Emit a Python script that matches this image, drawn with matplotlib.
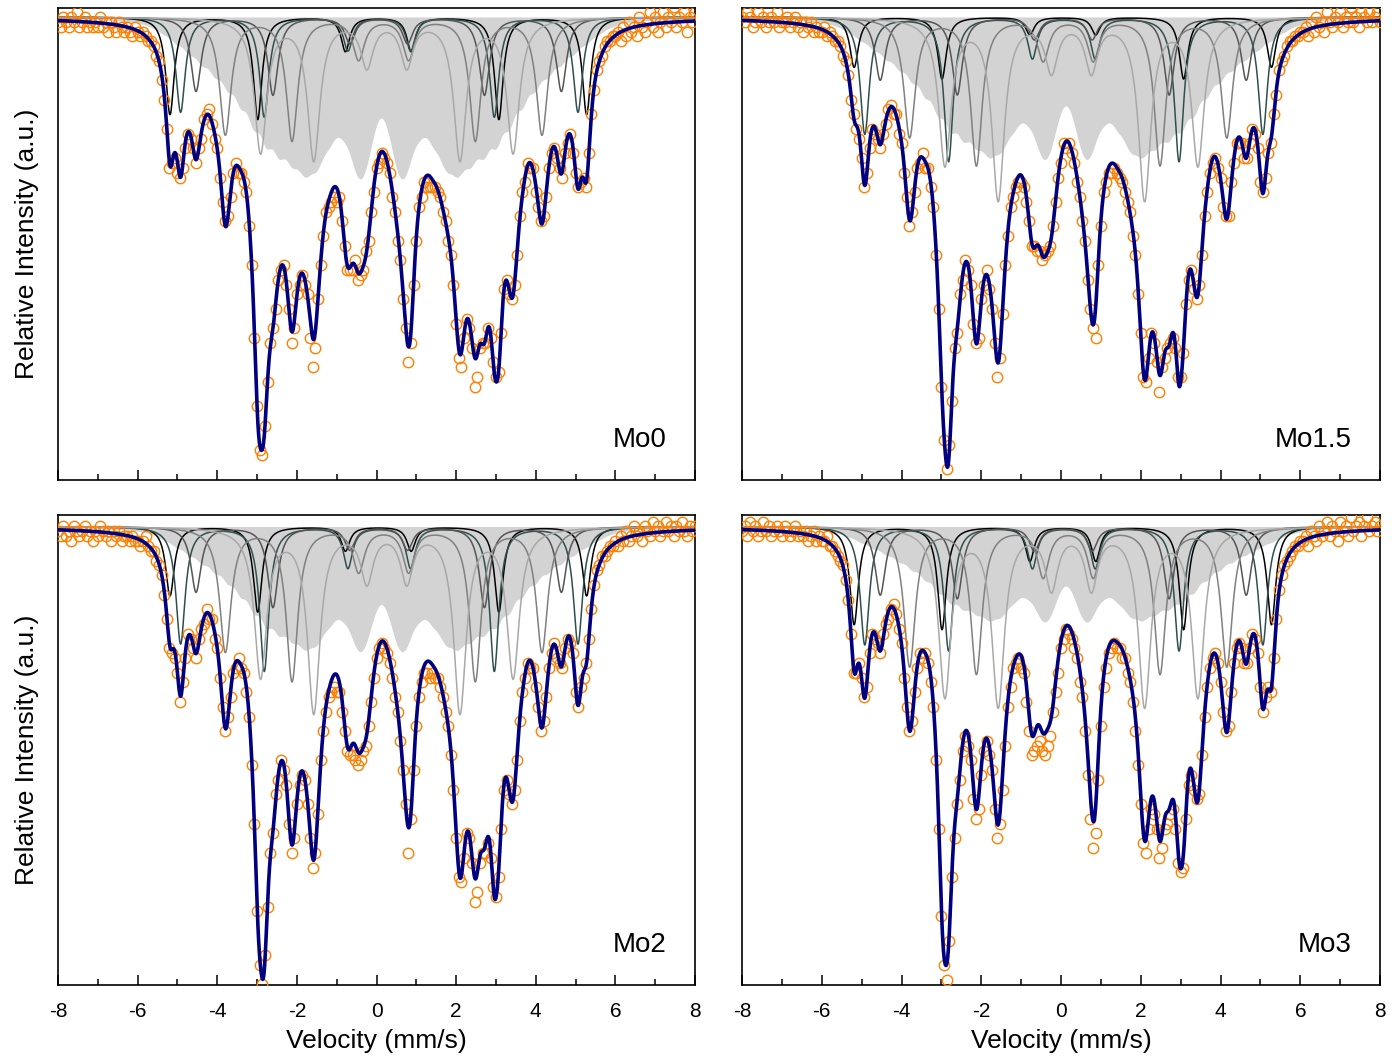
import numpy as np
import matplotlib.pyplot as plt

plt.rcParams['font.family'] = ['Liberation Sans', 'DejaVu Sans']
plt.rcParams['axes.unicode_minus'] = False

# sextet line positions per tesla (alpha-Fe calibration), mm/s
SPLIT = np.array([-0.1610, -0.0932, -0.0254, 0.0254, 0.0932, 0.1610])

comp_colors = ['#000000', '#2F4F4F', '#555555', '#808080', '#A8A8A8']
fill_color = '#D3D3D3'
point_color = '#FF8000'

sample_names = ['Mo0', 'Mo1.5', 'Mo2', 'Mo3']

# discrete sextets: hyperfine field (T), isomer shift (mm/s), outer line depth (%), linewidth (mm/s)
comp_field = [32.5, 31.0, 28.5, 24.7, 19.7]
comp_shift = [0.045, 0.07, 0.055, 0.18, 0.26]
comp_width = [0.26, 0.28, 0.31, 0.35, 0.38]
depth_mo0 = [2.00, 1.95, 1.52, 2.40, 2.75]
depth_mo15 = [1.03, 2.40, 1.29, 2.45, 3.00]
depth_mo2 = [1.42, 2.40, 1.34, 2.55, 3.05]
depth_mo3 = [2.01, 2.42, 1.40, 2.85, 3.45]
# relative intensity of lines 2/5 and 3/4 (lines 1/6 = 3)
middle_ratio = [3.15, 3.7, 3.7, 3.15]
inner_ratio = 1.05

# hyperfine field distribution shown as the shaded area
dist_field = np.arange(2, 38, 2)
dist_weight = [0.4, 0.7, 1.0, 1.2, 1.5, 1.8, 2.3, 3.1, 3.7, 3.7, 3.1, 2.5, 2.0, 1.6, 1.2, 0.8, 0.4, 0.1]
dist_ratio = [3.0, 2.3, 1.0]
dist_shift = 0.12
dist_width = 0.45
dist_depth = [3.33, 2.93, 2.57, 1.96]

comp_depths = [depth_mo0, depth_mo15, depth_mo2, depth_mo3]

# measured spectra: absorption (per mille) in 241 channels from -8 to +8 mm/s
channel_v = np.linspace(-8, 8, 241)
abs_mo0 = [
    1, 2, 0, 1, 2, 0, 1, -1, 2, 1, 0, 2, 1, 2, 1, 2, 0, 2, 1, 3, 1, 2, 3, 1, 2, 3, 2, 3, 4, 2,
    3, 4, 3, 4, 5, 5, 6, 8, 9, 13, 17, 23, 31, 30, 29, 32, 33, 31, 27, 24,
    25, 27, 30, 27, 25, 21, 20, 19, 22, 25, 27, 33, 38, 42, 41, 37, 32, 30, 32, 32,
    34, 36, 43, 51, 66, 80, 89, 90, 84, 75, 67, 64, 60, 54, 52, 51, 55, 60, 67, 64,
    57, 55, 53, 55, 57, 66, 72, 68, 58, 51, 45, 40, 39, 38, 37, 38, 37, 42, 47, 52,
    52, 52, 50, 54, 53, 52, 48, 46, 40, 36, 31, 30, 28, 29, 30, 32, 37, 40, 46, 50,
    58, 64, 71, 67, 55, 46, 39, 37, 34, 35, 35, 35, 35, 36, 37, 40, 42, 46, 49, 55,
    63, 70, 72, 66, 62, 64, 68, 76, 74, 68, 67, 67, 64, 66, 71, 74, 73, 65, 56, 54,
    57, 58, 55, 49, 41, 36, 34, 30, 31, 31, 36, 39, 42, 41, 37, 31, 28, 27, 29, 31,
    33, 28, 26, 24, 28, 32, 35, 34, 33, 35, 28, 20, 15, 11, 9, 8, 6, 5, 5, 4, 4,
    3, 5, 2, 4, 1, 3, 2, 4, 0, 2, 3, 1, -1, 2, 0, 3, 1, -1, 2, 0, 1, -2, 2, 0, 1, -1, 3, 0, 1, -1,
]
abs_mo15 = [
    0, 1, -1, 0, 2, 1, -1, 1, 0, 2, 1, 0, 1, -1, 2, 1, 1, 0, 2, 1, 0, 2, 1, 3, 1, 2, 1, 3, 2, 3,
    3, 2, 4, 3, 4, 5, 5, 6, 8, 9, 12, 17, 20, 23, 25, 29, 35, 32, 27, 23,
    24, 25, 27, 24, 22, 19, 18, 20, 20, 24, 26, 32, 37, 43, 40, 36, 31, 30, 28, 31,
    31, 35, 39, 49, 60, 76, 87, 93, 88, 79, 68, 65, 57, 54, 50, 52, 55, 63, 67, 66,
    58, 55, 52, 56, 60, 67, 74, 70, 61, 51, 45, 39, 37, 35, 34, 34, 35, 38, 42, 47,
    47, 48, 48, 50, 49, 48, 47, 43, 38, 33, 30, 26, 27, 26, 28, 30, 34, 37, 42, 46,
    54, 60, 64, 66, 51, 43, 36, 34, 32, 32, 31, 32, 33, 34, 36, 38, 40, 45, 49, 57,
    65, 74, 75, 70, 65, 67, 71, 77, 72, 70, 68, 67, 66, 68, 74, 74, 69, 59, 54, 52,
    56, 58, 55, 49, 41, 36, 32, 30, 29, 31, 33, 39, 41, 41, 34, 30, 26, 26, 26, 29,
    29, 26, 23, 24, 27, 34, 36, 33, 28, 26, 20, 16, 11, 9, 8, 6, 5, 5, 4, 4, 3,
    3, 2, 4, 1, 3, 0, 2, 1, 3, -1, 1, 2, 0, 1, -1, 2, 0, 1, -2, 1, 0, 2, -1, 0, 1, -1, 1, 0, -1, 1,
]
abs_mo2 = [
    1, 2, 0, 2, 1, 3, 0, 1, 2, 1, 0, 2, 1, 3, 1, 2, 0, 1, 2, 1, 3, 1, 2, 1, 3, 2, 2, 3, 2, 3,
    3, 4, 3, 2, 4, 5, 5, 7, 8, 10, 14, 19, 25, 26, 27, 30, 36, 32, 27, 22,
    23, 25, 27, 23, 21, 20, 17, 19, 19, 23, 25, 31, 37, 42, 39, 35, 30, 29, 27, 29,
    30, 34, 39, 49, 61, 79, 90, 94, 88, 78, 67, 63, 55, 52, 48, 50, 53, 61, 67, 64,
    57, 53, 51, 52, 57, 64, 70, 67, 59, 48, 42, 38, 35, 34, 33, 34, 34, 38, 42, 46,
    47, 47, 48, 49, 48, 46, 45, 41, 36, 31, 27, 25, 24, 25, 26, 28, 31, 35, 38, 44,
    50, 57, 67, 60, 50, 41, 35, 32, 30, 30, 31, 30, 31, 31, 33, 35, 38, 41, 47, 54,
    64, 72, 73, 68, 63, 64, 69, 77, 75, 69, 67, 67, 65, 68, 74, 76, 72, 62, 54, 52,
    55, 57, 54, 48, 40, 34, 31, 28, 29, 29, 33, 37, 42, 40, 35, 29, 26, 24, 27, 28,
    29, 25, 23, 24, 26, 34, 37, 33, 31, 28, 23, 17, 12, 9, 8, 6, 6, 5, 4, 4, 3,
    4, 2, 3, 1, 3, 2, 0, 2, 1, 3, 0, 1, 2, -1, 1, 0, 2, 1, -1, 1, 0, 2, 0, 1, -1, 1, 2, 0, 1, 0,
]
abs_mo3 = [
    1, 0, 2, -1, 1, 0, 2, 1, -1, 1, 0, 2, 1, 0, 1, 2, 0, 1, 2, 1, 0, 2, 1, 2, 1, 3, 2, 1, 3, 2,
    3, 3, 2, 4, 4, 5, 6, 7, 8, 11, 15, 22, 30, 30, 28, 31, 35, 33, 26, 22,
    23, 24, 26, 22, 20, 19, 17, 16, 18, 21, 24, 31, 37, 42, 40, 34, 29, 26, 27, 26,
    28, 32, 37, 48, 62, 80, 90, 93, 85, 72, 64, 57, 52, 46, 43, 45, 48, 56, 60, 58,
    51, 46, 44, 47, 50, 58, 64, 61, 54, 45, 37, 33, 29, 28, 27, 29, 30, 36, 42, 47,
    46, 45, 44, 46, 47, 45, 43, 38, 34, 30, 25, 23, 21, 22, 23, 25, 27, 32, 35, 42,
    51, 60, 66, 63, 52, 41, 33, 29, 26, 25, 24, 25, 25, 27, 27, 30, 32, 36, 42, 49,
    57, 65, 67, 62, 58, 59, 62, 68, 66, 62, 61, 59, 58, 62, 69, 71, 70, 60, 53, 51,
    54, 56, 55, 47, 39, 33, 29, 27, 26, 28, 32, 38, 42, 41, 34, 28, 25, 24, 25, 28,
    28, 25, 22, 23, 26, 33, 38, 35, 33, 34, 27, 19, 13, 10, 8, 7, 6, 5, 4, 4, 3,
    3, 2, 4, 1, 2, 3, 0, 2, 1, -1, 2, 0, 1, 3, -1, 1, 0, 2, -2, 1, 0, -1, 2, 0, -2, 1, 0, -1, 1, 0,
]
measured = [abs_mo0, abs_mo15, abs_mo2, abs_mo3]


def lorentz(v, pos, width):
    return 1.0 / (1.0 + ((v - pos) / (width / 2.0)) ** 2)


def sextet(v, field, shift, depth, width, ratio):
    r = np.array([ratio[0], ratio[1], ratio[2], ratio[2], ratio[1], ratio[0]]) / ratio[0]
    pos = shift + field * SPLIT
    out = np.zeros_like(v)
    for p, ri in zip(pos, r):
        out += depth * ri * lorentz(v, p, width)
    return out


def distribution(v, depth):
    s = np.zeros_like(v)
    for b, w in zip(dist_field, dist_weight):
        s += w * sextet(v, b, dist_shift, 1.0, dist_width, dist_ratio)
    return depth * s / s.max()


fig = plt.figure(figsize=(13.95, 10.63), dpi=100)
axes_rect = [
    [0.0416, 0.5485, 0.4566, 0.4440],
    [0.5319, 0.5485, 0.4574, 0.4440],
    [0.0416, 0.0734, 0.4566, 0.4421],
    [0.5319, 0.0734, 0.4574, 0.4421],
]
ylims = [(-9.515, 0.185), (-9.515, 0.185), (-9.41, 0.235), (-9.41, 0.235)]

v = np.linspace(-8, 8, 1601)

for i, name in enumerate(sample_names):
    ax = fig.add_axes(axes_rect[i])

    # shaded field distribution
    dist = distribution(v, dist_depth[i])
    ax.fill_between(v, 0, -dist, color=fill_color, lw=0, zorder=1)

    # discrete sextets and their sum
    total = dist.copy()
    for k in range(5):
        ratio = [3.0, middle_ratio[i], inner_ratio]
        c = sextet(v, comp_field[k], comp_shift[k], comp_depths[i][k], comp_width[k], ratio)
        total += c
        ax.plot(v, -c, color=comp_colors[k], lw=1.1, zorder=2)

    ax.plot(channel_v, -np.array(measured[i]) / 10.0, 'o', ms=7.5, mfc='none',
            mec=point_color, mew=1.0, zorder=3)
    ax.plot(v, -total, color='#000080', lw=2.6, zorder=4)

    ax.set_xlim(-8, 8)
    ax.set_ylim(*ylims[i])
    ax.set_yticks([])
    ax.set_xticks(np.arange(-8, 9, 2))
    ax.set_xticks(np.arange(-7, 8, 2), minor=True)
    ax.tick_params(axis='x', which='major', direction='in', length=7, width=1.1,
                   labelsize=15, pad=12)
    ax.tick_params(axis='x', which='minor', direction='in', length=4, width=1.1)
    for sp in ax.spines.values():
        sp.set_linewidth(1.2)
    if i < 2:
        ax.tick_params(axis='x', labelbottom=False)
    else:
        ax.set_xlabel('Velocity (mm/s)', fontsize=19, labelpad=6)
    if i % 2 == 0:
        ax.set_ylabel('Relative Intensity (a.u.)', fontsize=19, labelpad=14)
    ax.text(0.955, 0.07, name, transform=ax.transAxes, ha='right', va='baseline',
            fontsize=20)

fig.savefig('out.png', dpi=100)
